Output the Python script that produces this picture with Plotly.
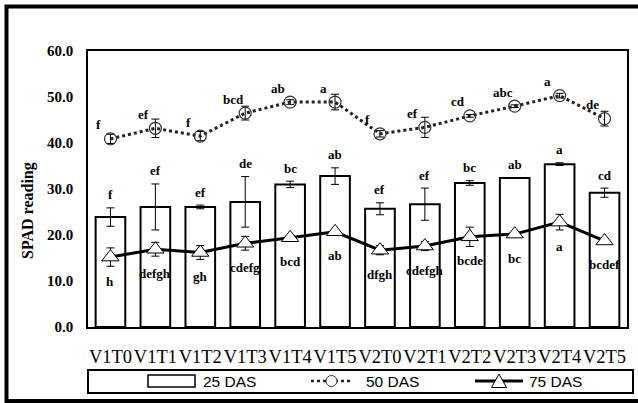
import plotly.graph_objects as go

categories = ["V1T0", "V1T1", "V1T2", "V1T3", "V1T4", "V1T5",
              "V2T0", "V2T1", "V2T2", "V2T3", "V2T4", "V2T5"]

das25 = [23.9, 26.1, 26.1, 27.2, 31.0, 32.8, 25.7, 26.7, 31.3, 32.4, 35.4, 29.2]
das25_err = [2.0, 5.0, 0.4, 5.5, 0.7, 1.8, 1.3, 3.5, 0.5, 0.0, 0.3, 1.0]
das25_letters = ["f", "ef", "ef", "de", "bc", "ab", "ef", "ef", "bc", "ab", "a", "cd"]

das50 = [40.9, 43.2, 41.5, 46.5, 48.9, 48.9, 42.0, 43.4, 45.9, 48.0, 50.3, 45.3]
das50_err = [1.0, 2.0, 1.0, 1.5, 0.5, 1.7, 0.7, 2.2, 0.3, 0.3, 0.5, 1.6]
das50_letters = ["f", "ef", "f", "bcd", "ab", "a", "f", "ef", "cd", "abc", "a", "de"]

das75 = [15.2, 16.9, 16.2, 18.2, 19.4, 20.7, 16.7, 17.6, 19.6, 20.2, 22.8, 18.7]
das75_err = [2.0, 1.5, 1.5, 1.5, 0.3, 0.3, 1.0, 1.0, 2.1, 0.3, 1.7, 0.3]
das75_letters = ["h", "defgh", "gh", "cdefg", "bcd", "ab", "dfgh", "cdefgh", "bcde", "bc", "a", "bcdef"]

series_names = ["25 DAS", "50 DAS", "75 DAS"]

serif = "Liberation Serif, Times New Roman, serif"
sans = "Liberation Sans, Arial, sans-serif"

# plot-area geometry in pixels (for converting layout decorations to paper coords)
L, R, T, B = 88, 627, 51, 327
def px(x):
    return (x - L) / (R - L)
def py(y):
    return (B - y) / (B - T)

fig = go.Figure()
fig.add_trace(go.Bar(
    x=categories, y=das25, name=series_names[0], width=0.66,
    marker=dict(color="white", line=dict(color="black", width=2)),
    error_y=dict(type="data", array=das25_err, color="black", thickness=1, width=4),
))
fig.add_trace(go.Scatter(
    x=categories, y=das50, name=series_names[1], mode="lines+markers",
    line=dict(color="#222", width=3, dash="dot"),
    marker=dict(symbol="circle", size=12, color="rgba(255,255,255,0)",
                line=dict(color="#333", width=1.2)),
    error_y=dict(type="data", array=das50_err, color="black", thickness=1, width=4),
))
fig.add_trace(go.Scatter(
    x=categories, y=das75, name=series_names[2], mode="lines+markers",
    line=dict(color="black", width=3),
    marker=dict(symbol="triangle-up", size=15, color="white",
                line=dict(color="black", width=1)),
    error_y=dict(type="data", array=das75_err, color="black", thickness=1, width=4),
))

annotations = []
letter_font = dict(family=serif, size=13, color="black")
for c, v, e, t in zip(categories, das25, das25_err, das25_letters):
    annotations.append(dict(x=c, y=v + e, text="<b>%s</b>" % t, showarrow=False,
                            xref="x", yref="y", yanchor="middle", yshift=13,
                            font=letter_font))
for c, v, t in zip(categories, das50, das50_letters):
    annotations.append(dict(x=c, y=v, text="<b>%s</b>" % t, showarrow=False,
                            xref="x", yref="y", yanchor="middle", yshift=14, xshift=-12,
                            font=letter_font))
for c, v, t in zip(categories, das75, das75_letters):
    annotations.append(dict(x=c, y=v, text="<b>%s</b>" % t, showarrow=False,
                            xref="x", yref="y", yanchor="middle", yshift=-24,
                            font=letter_font))
annotations.append(dict(x=px(28), y=py(211), xref="paper", yref="paper",
                        xanchor="center", yanchor="middle",
                        text="<b>SPAD reading</b>", textangle=-90, showarrow=False,
                        font=dict(family=serif, size=16, color="black")))

# legend (drawn as layout decorations to reproduce the wide box symbols)
leg_y = 381
for name, tx in zip(series_names, [201, 364, 527]):
    annotations.append(dict(x=px(tx), y=py(leg_y), xref="paper", yref="paper",
                            xanchor="left", yanchor="middle", text=name, showarrow=False,
                            font=dict(family=sans, size=15.5, color="black")))

shapes = [
    dict(type="rect", xref="paper", yref="paper",
         x0=px(6.5), x1=px(660), y0=py(401), y1=py(6.5),
         line=dict(color="black", width=4)),
    dict(type="rect", xref="paper", yref="paper",
         x0=0, x1=px(633), y0=py(393), y1=py(370),
         line=dict(color="black", width=2)),
    # 25 DAS symbol
    dict(type="rect", xref="paper", yref="paper",
         x0=px(148), x1=px(195), y0=py(387), y1=py(375),
         line=dict(color="black", width=1.5), fillcolor="white"),
    # 50 DAS symbol
    dict(type="line", xref="paper", yref="paper",
         x0=px(311), x1=px(352), y0=py(leg_y), y1=py(leg_y),
         line=dict(color="#222", width=2.5, dash="dot")),
    dict(type="circle", xref="paper", yref="paper",
         x0=px(326), x1=px(337), y0=py(386.5), y1=py(375.5),
         line=dict(color="#333", width=1), fillcolor="white"),
    # 75 DAS symbol
    dict(type="line", xref="paper", yref="paper",
         x0=px(475), x1=px(523), y0=py(leg_y), y1=py(leg_y),
         line=dict(color="black", width=3)),
    dict(type="path", xref="paper", yref="paper",
         path="M %f %f L %f %f L %f %f Z" % (px(491.5), py(387.5), px(506.5), py(387.5),
                                              px(499), py(374)),
         line=dict(color="black", width=1), fillcolor="white"),
]

fig.update_layout(
    width=638, height=403,
    margin=dict(l=L, r=638 - R, t=T, b=403 - B, autoexpand=False),
    paper_bgcolor="white", plot_bgcolor="white",
    showlegend=False,
    annotations=annotations,
    shapes=shapes,
)
fig.update_xaxes(range=[-0.5, len(categories) - 0.5],
                 showline=True, linecolor="black", linewidth=1.5, mirror=True,
                 ticks="outside", ticklen=12, tickcolor="rgba(0,0,0,0)",
                 tickangle=0, automargin=False,
                 tickfont=dict(family=serif, size=18.5, color="black"),
                 showgrid=False)
fig.update_yaxes(range=[0, 60], dtick=10, tickformat=".1f",
                 showline=True, linecolor="black", linewidth=1.5, mirror=True,
                 ticks="outside", ticklen=10, tickcolor="rgba(0,0,0,0)",
                 automargin=False,
                 tickfont=dict(family=serif, size=15, color="black"),
                 tickprefix="<b>", ticksuffix="</b>",
                 showgrid=False, zeroline=False)

fig.write_html("out.html")
